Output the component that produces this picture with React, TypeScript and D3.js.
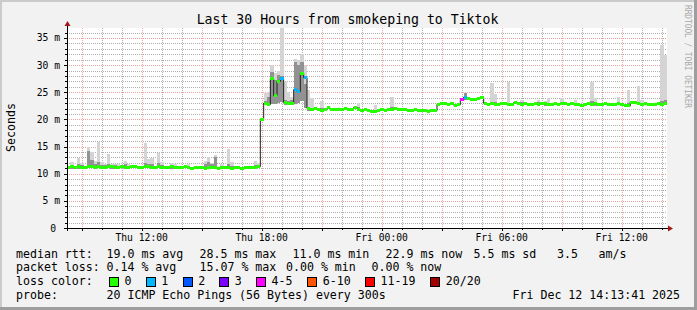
import React from "react";
import * as d3 from "d3";

// ---- time frame (10 minute steps) ----
const START = new Date(2025, 11, 11, 8, 16);
const END = new Date(2025, 11, 12, 14, 16);
const STEP_MIN = 10;

// ---- median rtt per 10-min step (ms) ----
const median: number[] = [
  11.2, 11.3, 11.2, 11.4, 11.2, 11.1, 11.3, 11.4, 11.2, 11.3,
  11.1, 11.2, 11.4, 11.3, 11.2, 11.1, 11.3, 11.2, 11.2, 11.4,
  11.3, 11.1, 11.2, 11.3, 11.4, 11.2, 11.1, 11.3, 11.2, 11.2,
  11.1, 11.3, 11.2, 11.1, 11.2, 11.3, 11.1, 11.0, 11.2, 11.1,
  11.1, 11.0, 11.2, 11.1, 11.1, 11.0, 11.1, 11.2, 11.1, 11.0,
  11.1, 11.1, 11.0, 11.1, 11.2, 11.1, 11.2, 11.3,
  20.0, 23.0, 22.7, 27.5, 24.4, 27.0, 27.5, 23.1, 22.9, 22.9, 25.5, 25.1, 28.5, 27.7, 22.0,
  21.8, 22.0, 21.9, 21.7, 21.8, 22.1, 21.9, 21.8, 21.9, 21.8,
  22.0, 21.8, 21.9, 22.2, 21.9, 21.7, 21.8, 21.6, 21.5, 21.5,
  21.6, 21.8, 21.7, 21.9, 21.8, 22.0, 21.9, 21.8, 21.9, 21.7,
  21.6, 21.8, 21.7, 21.6, 21.6, 21.5, 21.6, 21.6,
  22.8, 22.9, 23.0, 22.8, 22.9, 22.6, 22.7,
  23.7, 24.1, 23.8, 23.7, 23.6, 23.8, 24.1,
  23.0, 22.8, 22.9, 22.7, 22.8, 23.0, 22.9, 22.7, 22.8, 23.1,
  22.9, 22.8, 22.9, 22.7, 22.8, 22.9, 22.8, 23.0, 22.9, 22.8,
  22.7, 22.9, 22.8, 23.0, 22.9, 22.8, 22.9, 22.7, 22.8, 22.6,
  22.8, 22.9, 22.8, 22.9, 22.7, 22.8, 22.9, 22.8, 22.8, 22.7,
  22.9, 22.8, 22.6, 22.5, 23.2, 23.1, 22.9, 22.8, 22.9, 22.8,
  22.7, 22.8, 22.9, 22.8, 22.9,
];

// ---- lost pings (out of 20) per step ----
const lossStep = [64, 68, 69, 71, 118, 119];
const lossCount = [1, 1, 1, 1, 4, 1];

// ---- smoke (ping spread) per step ----
const smokeStep = [
  1, 3, 4, 6, 7, 8, 9, 10, 11, 12, 13, 14, 15, 17, 18, 23, 24, 25, 27, 28, 31, 32, 36,
  41, 42, 43, 44, 46, 48, 49, 56, 57,
  59, 60, 61, 62, 63, 64, 65, 66, 67, 68, 69, 70, 71, 72, 73,
  76, 87, 92, 97, 119, 127, 128, 132, 136, 141, 143, 144, 148, 152, 157, 158, 165, 168, 171, 172, 178, 179,
];
const smokeLow = [
  10.9, 10.9, 11.0, 11.0, 11.0, 10.9, 11.0, 10.9, 11.0, 11.0, 10.9, 10.9, 10.9, 11.0, 10.9, 11.0, 11.0, 10.9, 11.0, 10.9, 10.9, 10.9, 10.8,
  10.8, 10.9, 10.8, 10.9, 10.8, 10.9, 10.8, 10.9, 11.0,
  22.6, 22.5, 22.8, 22.9, 23.1, 23.2, 22.6, 22.6, 22.6, 22.9, 23.0, 23.4, 22.1, 21.6, 21.5,
  21.4, 21.6, 21.3, 21.5, 23.6, 22.6, 22.5, 22.5, 22.6, 22.6, 22.5, 22.5, 22.7, 22.5, 22.5, 22.5, 22.6, 22.3, 22.6, 22.5, 22.5, 22.6,
];
const smokeMid = [
  11.6, 11.8, 11.6, 14.2, 12.6, 11.7, 12.2, 11.6, 11.6, 11.8, 11.5, 11.6, 11.5, 11.7, 11.5, 12.0, 11.8, 11.8, 11.9, 11.6, 11.6, 11.5, 11.4,
  11.7, 12.1, 11.8, 13.0, 11.5, 11.8, 11.5, 11.6, 11.6,
  23.4, 24.1, 28.8, 27.3, 28.2, 28.0, 23.6, 23.4, 23.6, 30.6, 30.0, 30.6, 26.5, 22.2, 22.0,
  22.1, 22.2, 21.8, 22.2, 24.8, 23.2, 23.2, 23.1, 23.2, 23.2, 23.0, 23.1, 23.2, 23.0, 23.4, 23.1, 23.2, 23.0, 23.2, 23.1, 23.4, 23.5,
];
const smokeHigh = [
  12.2, 12.8, 12.0, 14.9, 14.0, 12.4, 15.9, 12.1, 11.8, 13.7, 11.8, 11.8, 11.8, 12.4, 11.8, 15.7, 12.7, 12.9, 13.9, 12.1, 12.0, 11.8, 11.7,
  12.4, 13.0, 12.0, 13.5, 11.8, 14.5, 12.1, 12.4, 12.0,
  24.8, 25.0, 30.0, 28.5, 29.0, 36.8, 26.9, 25.0, 24.2, 31.2, 30.9, 32.1, 30.0, 25.5, 23.9,
  23.3, 23.1, 22.7, 24.2, 24.9, 26.7, 24.6, 26.9, 23.6, 23.6, 23.4, 23.9, 23.9, 23.5, 26.9, 23.9, 24.1, 25.4, 26.1, 23.6, 33.7, 31.8,
];

// ---- axis / legend texts ----
const yTicks = [0, 5, 10, 15, 20, 25, 30, 35];
const yTickLabels = ["0", "5 m", "10 m", "15 m", "20 m", "25 m", "30 m", "35 m"];
const lossLabels = ["0", "1", "2", "3", "4-5", "6-10", "11-19", "20/20"];
const lossColors = ["#26ff00", "#00b8ff", "#0059ff", "#7e00ff", "#ff00ff", "#ff5500", "#ff0000", "#a10000"];
const rttStats = ["median rtt:", "19.0 ms avg", "28.5 ms max", "11.0 ms min", "22.9 ms now", "5.5 ms sd", "3.5", "am/s"];
const rttX = [16, 106.5, 199.5, 292.5, 385.5, 473.5, 557, 598.5];
const lossStats = ["packet loss:", "0.14 % avg", "15.07 % max", "0.00 % min", "0.00 % now"];
const lossStatsX = [16, 106.5, 199.5, 286, 371.5];
const lossBoxX = [109, 145.7, 182.7, 219.3, 256, 307.3, 365, 430.3];
const probeText = ["probe:", "20 ICMP Echo Pings (56 Bytes) every 300s", "Fri Dec 12 14:13:41 2025"];
const probeX = [16, 106.5, 512.5];

const FONT = "'DejaVu Sans Mono', monospace";

function lossClass(n: number): number {
  if (n <= 0) return 0;
  if (n <= 3) return n;
  if (n <= 5) return 4;
  if (n <= 10) return 5;
  if (n <= 19) return 6;
  return 7;
}

export default function App() {
  const W = 697, H = 310;
  const L = 67, R = 667, T = 28, B = 228;
  const x = d3.scaleTime().domain([START, END]).range([L, R]);
  const y = d3.scaleLinear().domain([0, 36.83]).range([B, T]);
  const stepMs = STEP_MIN * 60000;
  const t = (i: number) => new Date(START.getTime() + i * stepMs);

  const hours = d3.timeHour.every(1)!.range(START, END);
  const minorV = hours.filter((h) => h.getHours() % 3 !== 0);
  const majorV = hours.filter((h) => h.getHours() % 3 === 0);
  const labelTimes = hours.filter((h) => h.getHours() % 6 === 0);
  const fmt = d3.timeFormat("%a %H:%M");
  const minorH = d3.range(1, 37).filter((v) => v % 5 !== 0);

  const pts: [number, number][] = median.map((v, i) => [x(t(i)), y(v)]);
  pts.push([x(t(median.length)), y(median[median.length - 1])]);
  const line = d3.line().curve(d3.curveStepAfter)(pts) || "";

  const lossMap = new Map<number, number>();
  lossStep.forEach((s, k) => lossMap.set(s, lossCount[k]));

  const cx = (v: number) => Math.round(v) + 0.5;

  return (
    <svg width={W} height={H} style={{ position: "absolute", left: 0, top: 0, display: "block" }} fontFamily={FONT}>
      <rect x={0} y={0} width={W} height={H} fill="#f2f2f2" />
      <rect x={0} y={0} width={W} height={2} fill="#cbcbcb" />
      <rect x={0} y={0} width={2} height={H} fill="#cbcbcb" />
      <rect x={W - 3} y={0} width={3} height={H} fill="#9e9e9e" />
      <rect x={0} y={H - 3} width={W} height={3} fill="#9e9e9e" />

      <rect x={L} y={T} width={R - L} height={B - T} fill="#ffffff" />

      {/* grid */}
      <g strokeWidth={1}>
        {minorH.map((v) => (
          <line key={"mh" + v} x1={L} x2={R} y1={cx(y(v))} y2={cx(y(v))} stroke="#b0b0b0" strokeDasharray="1 1" />
        ))}
        {minorV.map((h) => (
          <line key={"mv" + h.getTime()} x1={cx(x(h))} x2={cx(x(h))} y1={T} y2={B} stroke="#b0b0b0" strokeDasharray="1 1" />
        ))}
        {yTicks.slice(1).map((v) => (
          <line key={"Mh" + v} x1={L} x2={R} y1={cx(y(v))} y2={cx(y(v))} stroke="#f0a4a4" strokeDasharray="1 1" />
        ))}
        {majorV.map((h) => (
          <line key={"Mv" + h.getTime()} x1={cx(x(h))} x2={cx(x(h))} y1={T} y2={B} stroke="#f0a4a4" strokeDasharray="1 1" />
        ))}
      </g>

      {/* smoke */}
      <g shapeRendering="crispEdges">
        {smokeStep.map((s, k) => {
          const x0 = x(t(s)), x1 = x(t(s + 1));
          return (
            <g key={"s" + s}>
              <rect x={x0} width={x1 - x0} y={y(smokeHigh[k])} height={y(smokeLow[k]) - y(smokeHigh[k])} fill="#d4d4d4" />
              <rect x={x0} width={x1 - x0} y={y(smokeMid[k])} height={y(smokeLow[k]) - y(smokeMid[k])} fill="#929292" />
            </g>
          );
        })}
      </g>

      {/* median */}
      <path d={line} fill="none" stroke="#202020" strokeWidth={1} />
      <g shapeRendering="crispEdges">
        {median.map((v, i) => {
          const x0 = x(t(i)), x1 = x(t(i + 1));
          const c = lossColors[lossClass(lossMap.get(i) || 0)];
          return <rect key={"m" + i} x={x0} width={x1 - x0} y={y(v) - 1.5} height={3} fill={c} />;
        })}
      </g>

      {/* axes */}
      <g shapeRendering="crispEdges" stroke="#000">
        <line x1={L - 3} x2={R + 1} y1={B + 0.5} y2={B + 0.5} />
        <line x1={L + 0.5} x2={L + 0.5} y1={B + 3} y2={T - 2} />
        {d3.range(1, 37).map((v) => (
          <line key={"yt" + v} x1={v % 5 === 0 ? L - 3 : L - 2} x2={L} y1={cx(y(v))} y2={cx(y(v))} />
        ))}
        {hours.map((h) => (
          <line key={"xt" + h.getTime()} x1={cx(x(h))} x2={cx(x(h))} y1={B + 1} y2={h.getHours() % 3 === 0 ? B + 3 : B + 2} />
        ))}
      </g>
      <path d={`M${R + 1},${B - 2.5} L${R + 6},${B + 0.5} L${R + 1},${B + 3.5} Z`} fill="#a01818" />
      <path d={`M${L - 2.5},${T - 2} L${L + 0.5},${T - 7} L${L + 3.5},${T - 2} Z`} fill="#a01818" />

      {/* tick labels */}
      <g fontSize={9.7} fill="#000">
        {yTicks.map((v, k) => (
          <text key={"yl" + v} x={v === 0 ? 56 : 60} y={y(v) + 3.5} textAnchor="end">
            {yTickLabels[k]}
          </text>
        ))}
        {labelTimes.map((h) => (
          <text key={"xl" + h.getTime()} x={x(h)} y={241} textAnchor="middle">
            {fmt(h)}
          </text>
        ))}
      </g>

      {/* title and side texts */}
      <text x={347.5} y={24} fontSize={13.2} textAnchor="middle" fill="#000">
        Last 30 Hours from smokeping to Tiktok
      </text>
      <text transform="translate(14.5,127.5) rotate(-90)" fontSize={11.6} textAnchor="middle" fill="#000">
        Seconds
      </text>
      <text transform="translate(684.5,5) rotate(90)" fontSize={8.5} fill="#a8a8a8" textLength={103} lengthAdjust="spacingAndGlyphs">
        RRDTOOL / TOBI OETIKER
      </text>

      {/* legend */}
      <g fontSize={11.6} fill="#000">
        {rttStats.map((s, k) => (
          <text key={"r" + k} x={rttX[k]} y={257.5}>{s}</text>
        ))}
        {lossStats.map((s, k) => (
          <text key={"l" + k} x={lossStatsX[k]} y={271}>{s}</text>
        ))}
        <text x={16} y={285}>loss color:</text>
        {lossLabels.map((s, k) => (
          <g key={"lc" + k}>
            <rect x={Math.round(lossBoxX[k]) + 0.5} y={277.5} width={9} height={9} fill={lossColors[k]} stroke="#000" strokeWidth={1} shapeRendering="crispEdges" />
            <text x={lossBoxX[k] + 15.5} y={285}>{s}</text>
          </g>
        ))}
        {probeText.map((s, k) => (
          <text key={"p" + k} x={probeX[k]} y={298.5}>{s}</text>
        ))}
      </g>
    </svg>
  );
}
